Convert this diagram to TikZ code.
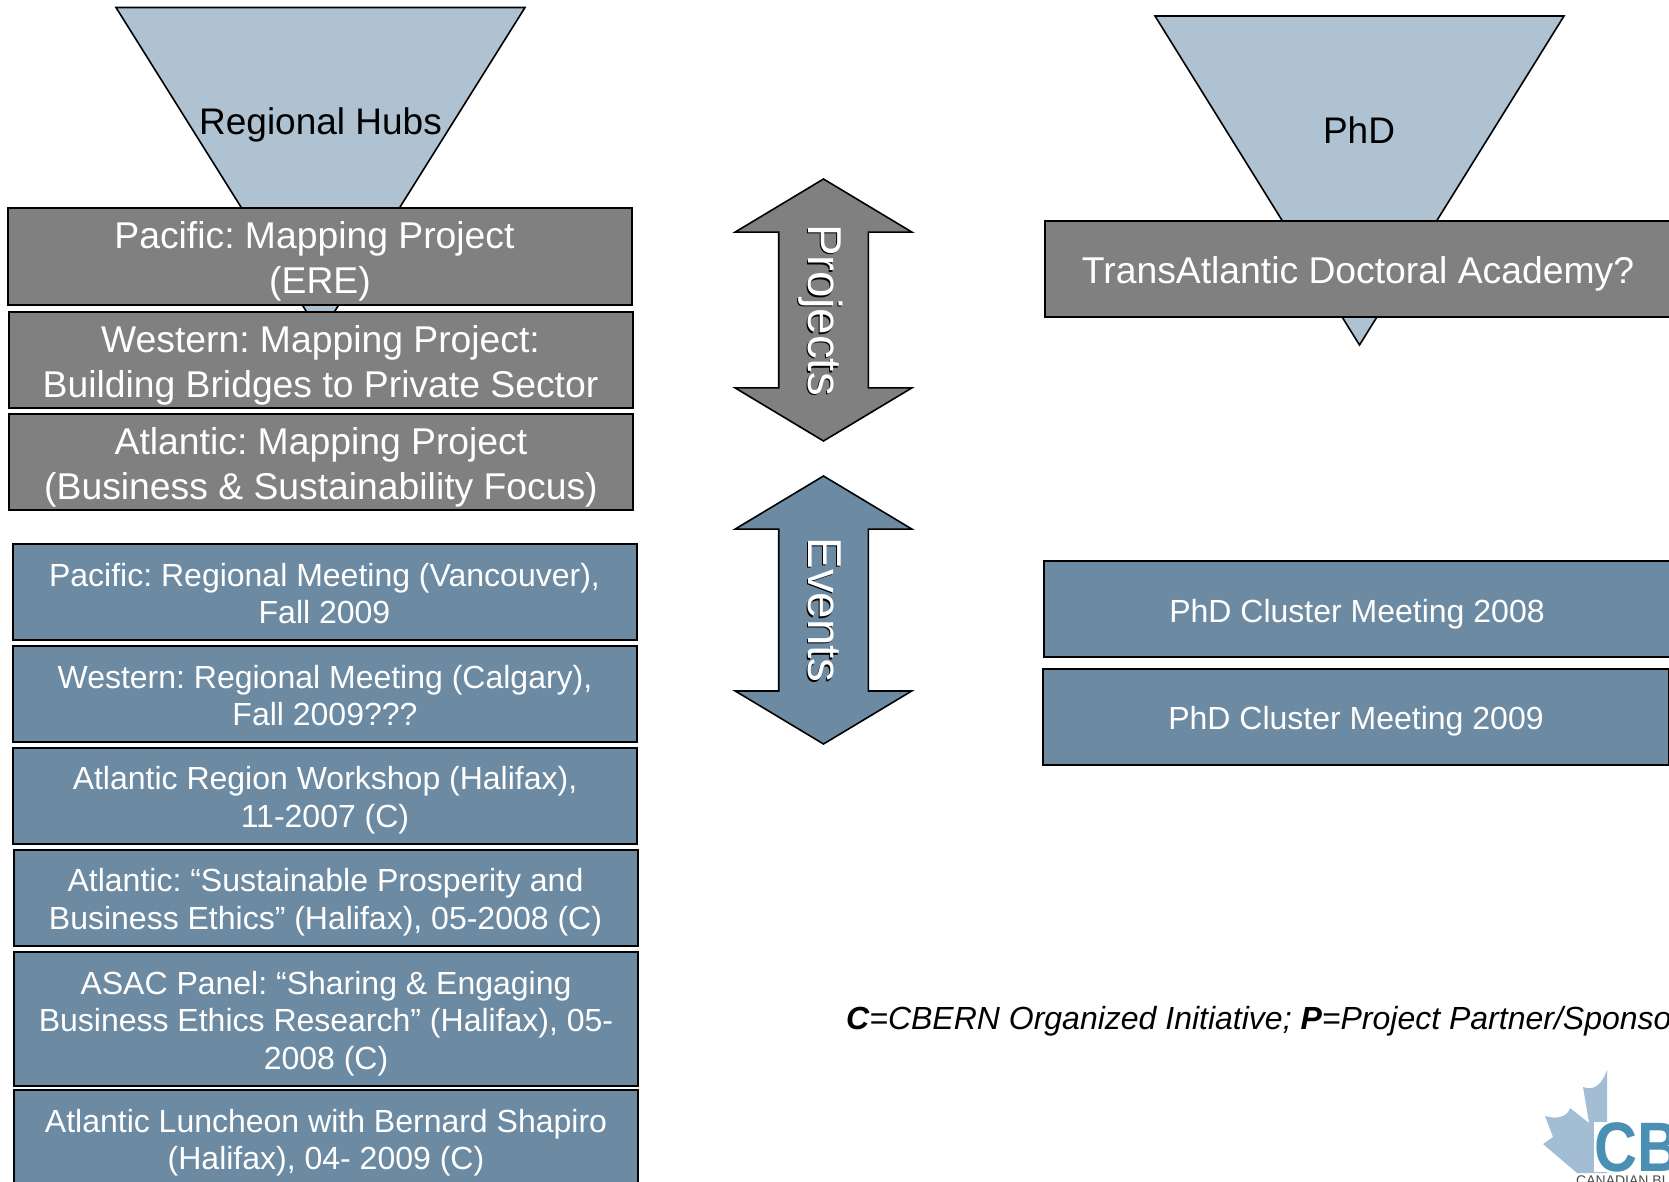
\documentclass[tikz,border=0pt]{standalone}
\usepackage{fontspec}
\setmainfont{Liberation Sans}
\usetikzlibrary{shapes.arrows}
\definecolor{hubblue}{HTML}{AFC2D1}
\definecolor{projgray}{HTML}{808080}
\definecolor{eventblue}{HTML}{6C8BA3}
\definecolor{leafblue}{HTML}{A3BDD4}
\definecolor{logoblue}{HTML}{4A8FB4}
\newcommand{\shadowtext}[1]{\makebox[0pt][l]{\raisebox{-1.5pt}{\hspace*{1.5pt}\color{black}#1}}#1}
\frenchspacing
\begin{document}
\begin{tikzpicture}[x=1pt,y=-1pt]
        \tikzstyle{every node}=[align=center,inner sep=0pt];
        \tikzstyle{funnel}=[draw=black,line width=1.6pt,fill=hubblue,line join=miter];
        \tikzstyle{funneltext}=[font=\fontsize{37}{45}\selectfont];
        \tikzstyle{projbox}=[draw=black,line width=2pt,fill=projgray,text=white,minimum width=624pt,minimum height=96pt,font=\fontsize{37.3}{45}\selectfont,text height=84pt,text depth=10pt];
        \tikzstyle{eventbox}=[draw=black,line width=2pt,fill=eventblue,text=white,minimum width=624pt,minimum height=96pt,font=\fontsize{32}{37.5}\selectfont,text height=71.8pt,text depth=8pt];
        \tikzstyle{updown}=[draw=black,line width=1.6pt,double arrow,rotate=-90,text=white,double arrow tip angle=118,double arrow head extend=43.5pt,minimum width=175pt,minimum height=262pt,text height=59pt,text depth=29pt,font=\fontsize{47.5}{47.5}\selectfont];
        \clip (0,0) rectangle (1669,1182);
        % funnels
        \draw[funnel] (116,7.5)--(525,7.5)--(320.5,334)--cycle;
        \draw[funnel] (1155,16)--(1564,16)--(1359.5,345)--cycle;
        \node[funneltext] (hubs) at (320.5,125) {Regional Hubs};
        \node[funneltext] (phd) at (1359,130) {PhD};
        % left column, projects
        \node[projbox] (pacificproj) at (320,256.5) {Pacific: Mapping Project\hspace*{11pt}\\(ERE)};
        \node[projbox] (westernproj) at (320.5,360) {Western: Mapping Project:\\Building Bridges to Private Sector};
        \node[projbox] (atlanticproj) at (321,462) {Atlantic: Mapping Project\\(Business \& Sustainability Focus)};
        % left column, events
        \node[eventbox] (pacificmeet) at (324.5,592) {Pacific: Regional Meeting (Vancouver),\\Fall 2009};
        \node[eventbox] (westernmeet) at (325,694) {Western: Regional Meeting (Calgary),\\Fall 2009???};
        \node[eventbox] (atlanticshop) at (325,795.5) {Atlantic Region Workshop (Halifax),\\11-2007 (C)};
        \node[eventbox] (atlanticbiz) at (325.5,897.5) {Atlantic: “Sustainable Prosperity and\\Business Ethics” (Halifax), 05-2008 (C)};
        \node[eventbox,minimum height=134pt,text height=109.3pt] (asac) at (326,1018.5) {ASAC Panel: “Sharing \& Engaging\\Business Ethics Research” (Halifax), 05-\\2008 (C)};
        \node[eventbox] (luncheon) at (326,1138) {Atlantic Luncheon with Bernard Shapiro\\(Halifax), 04- 2009 (C)};
        % arrows
        \node[updown,fill=projgray] (projects) at (823.5,310) {\shadowtext{Projects}};
        \node[updown,fill=eventblue,minimum height=268pt] (events) at (823.5,610) {\shadowtext{Events}};
        % right column
        \node[projbox,minimum width=626pt,text height=39pt] (academy) at (1358,269) {TransAtlantic Doctoral Academy?};
        \node[eventbox,minimum width=626pt,text height=34.3pt] (cluster2008) at (1357,609) {PhD Cluster Meeting 2008};
        \node[eventbox,minimum width=626pt,text height=34.3pt] (cluster2009) at (1356,716.5) {PhD Cluster Meeting 2009};
        \node[anchor=west,font=\fontsize{32}{37.5}\selectfont\itshape] (key) at (846,1021) {\textbf{C}=CBERN Organized Initiative; \textbf{P}=Project Partner/Sponsor};
        % logo
        \fill[leafblue] (1607,1070) .. controls (1603,1082) and (1595,1092) .. (1583,1087) -- (1589,1123) -- (1570,1108) .. controls (1568,1116) and (1558,1120) .. (1545,1116) -- (1553,1137) -- (1543,1144) -- (1577,1173) -- (1607,1173) -- cycle;
        \node[anchor=west,text=logoblue,font=\fontsize{70}{70}\bfseries\selectfont,xscale=.85,fill=white,inner sep=0pt] (cb) at (1594,1147) {CB};
        \node[anchor=west,text=black!70,font=\fontsize{14}{14}\selectfont] (canadian) at (1576,1181) {CANADIAN BU};
    \end{tikzpicture}
\end{document}
